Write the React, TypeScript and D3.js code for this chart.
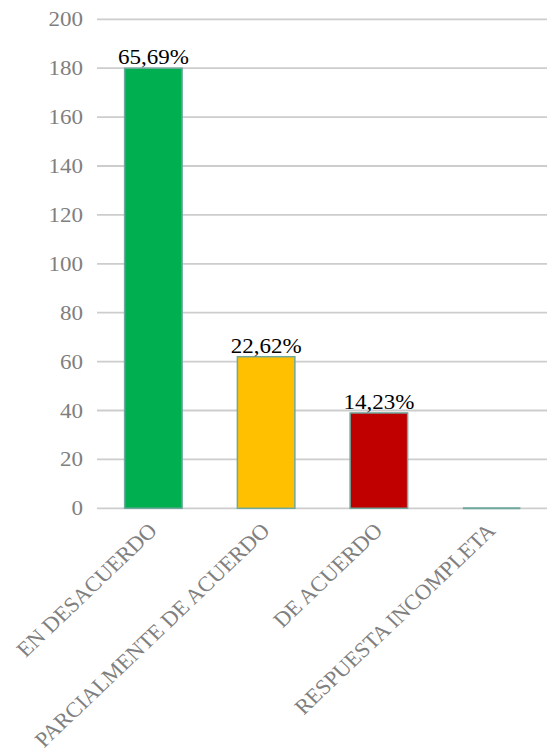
import React from "react";
import * as d3 from "d3";

const categories = ["EN DESACUERDO", "PARCIALMENTE DE ACUERDO", "DE ACUERDO", "RESPUESTA INCOMPLETA"];
const values = [180, 62, 39, 0];
const percentLabels = ["65,69%", "22,62%", "14,23%", ""];
const barColors = ["#00b050", "#ffc000", "#c00000", "#00b050"];
const yTicks = [0, 20, 40, 60, 80, 100, 120, 140, 160, 180, 200];

const W = 547;
const H = 752;
const SX = 1.15;
const SXR = 1.05;
const FONT = "'Liberation Serif', 'Times New Roman', serif";

export default function App() {
  const x = d3.scaleBand<string>().domain(categories).range([97, 548]).paddingInner(0.49).paddingOuter(0.245);
  const y = d3.scaleLinear().domain([0, 200]).range([508.3, 19.3]);
  const bw = x.bandwidth();

  return (
    <svg width={W} height={H} style={{ position: "absolute", left: 0, top: 0, background: "#fff" }}>
      {yTicks.map((t) => (
        <g key={t}>
          <line x1={97} x2={W} y1={y(t)} y2={y(t)} stroke="#cdcdcd" strokeWidth={1.8} />
          <text
            transform={`translate(83,${y(t) + 7}) scale(${SX},1)`}
            textAnchor="end"
            fontFamily={FONT}
            fontSize={20}
            fill="#7f7f7f"
          >
            {t}
          </text>
        </g>
      ))}
      {categories.map((c, i) => {
        const x0 = x(c)!;
        const top = y(values[i]);
        const h = y(0) - top;
        return (
          <g key={c}>
            {h > 0 ? (
              <rect x={x0} y={top} width={bw} height={h} fill={barColors[i]} stroke="#6fa89c" strokeWidth={1.5} />
            ) : (
              <line x1={x0} x2={x0 + bw} y1={top} y2={top} stroke="#6fa89c" strokeWidth={2} />
            )}
            {percentLabels[i] && (
              <text
                transform={`translate(${x0 + bw / 2},${top - 4}) scale(${SX},1)`}
                textAnchor="middle"
                fontFamily={FONT}
                fontSize={20}
                fill="#000"
              >
                {percentLabels[i]}
              </text>
            )}
            <text
              transform={`translate(${x0 + bw / 2 + 5},532) scale(${SXR},1) rotate(-45)`}
              textAnchor="end"
              fontFamily={FONT}
              fontSize={21.5}
              fill="#808080"
            >
              {c}
            </text>
          </g>
        );
      })}
    </svg>
  );
}
